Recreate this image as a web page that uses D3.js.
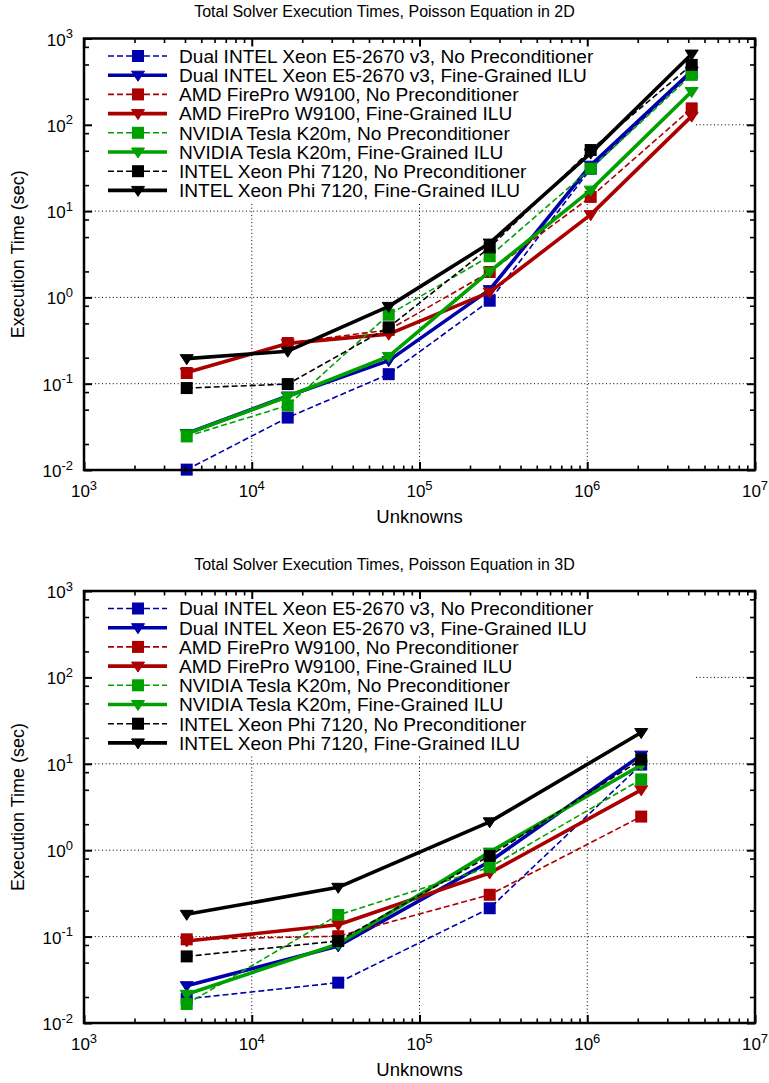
<!DOCTYPE html>
<html><head><meta charset="utf-8">
<script src="https://cdn.jsdelivr.net/npm/d3@7"></script>
<style>
body{margin:0;background:#fff}
svg{display:block}
text{font-family:"Liberation Sans",Arial,Helvetica,sans-serif;fill:#000}
</style>
</head><body>
<script>
// ---------------- data ----------------
const seriesLabels = [
  "Dual INTEL Xeon E5-2670 v3, No Preconditioner",
  "Dual INTEL Xeon E5-2670 v3, Fine-Grained ILU",
  "AMD FirePro W9100, No Preconditioner",
  "AMD FirePro W9100, Fine-Grained ILU",
  "NVIDIA Tesla K20m, No Preconditioner",
  "NVIDIA Tesla K20m, Fine-Grained ILU",
  "INTEL Xeon Phi 7120, No Preconditioner",
  "INTEL Xeon Phi 7120, Fine-Grained ILU"
];
const seriesColors = ["#0000aa","#0000aa","#aa0000","#aa0000","#00a000","#00a000","#000000","#000000"];
const seriesKinds  = ["none","ilu","none","ilu","none","ilu","none","ilu"];

// 2D Poisson
const unknowns2D = [4096, 16384, 65536, 262144, 1048576, 4194304];
const xeonNone2D = [0.0101, 0.0405, 0.129, 0.915, 31, 400];
const xeonILU2D  = [0.0265, 0.072, 0.185, 1.23, 34, 420];
const amdNone2D  = [0.133, 0.296, 0.42, 1.97, 14.6, 155];
const amdILU2D   = [0.135, 0.293, 0.375, 1.15, 9.1, 126];
const nvNone2D   = [0.0245, 0.056, 0.63, 3.0, 31, 379];
const nvILU2D    = [0.0262, 0.071, 0.207, 2.0, 17.5, 243];
const phiNone2D  = [0.089, 0.099, 0.45, 3.8, 51, 495];
const phiILU2D   = [0.195, 0.238, 0.787, 4.26, 47, 660];

// 3D Poisson
const unknowns3D = [4096, 32768, 262144, 2097152];
const xeonNone3D = [0.019, 0.0293, 0.213, 9.8];
const xeonILU3D  = [0.027, 0.078, 0.74, 12.6];
const amdNone3D  = [0.093, 0.101, 0.305, 2.45];
const amdILU3D   = [0.089, 0.137, 0.545, 5.0];
const nvNone3D   = [0.0166, 0.178, 0.635, 6.6];
const nvILU3D    = [0.0215, 0.082, 0.95, 9.7];
const phiNone3D  = [0.059, 0.089, 0.86, 11.2];
const phiILU3D   = [0.181, 0.372, 2.13, 23];

const xMajorTicks = [1e3, 1e4, 1e5, 1e6, 1e7];
const xTickExponents = ["3","4","5","6","7"];
const yMajorTicks = [1e-2, 1e-1, 1e0, 1e1, 1e2, 1e3];
const yTickExponents = ["-2","-1","0","1","2","3"];
const xMinorMultipliers = [2,3,4,5,6,7,8,9];
const yMinorMultipliers = [2,5,8];

const titles = ["Total Solver Execution Times, Poisson Equation in 2D",
                "Total Solver Execution Times, Poisson Equation in 3D"];
const xLabel = "Unknowns";
const yLabel = "Execution Time (sec)";

// ---------------- drawing ----------------
const W = 769, H = 1083;
const svg = d3.select("body").append("svg").attr("width", W).attr("height", H);

function minorTicks(majors, mults) {
  const out = [];
  for (let i = 0; i < majors.length - 1; i++) mults.forEach(m => out.push(majors[i] * m));
  return out;
}

function drawChart(cfg) {
  const {top, bottom, left, right, title, xs, series} = cfg;
  const x = d3.scaleLog().domain([1e3, 1e7]).range([left, right]);
  const y = d3.scaleLog().domain([1e-2, 1e3]).range([bottom, top]);
  const g = svg.append("g");

  // title
  g.append("text").attr("x", W / 2).attr("y", top - 21.5)
    .attr("text-anchor", "middle").style("font-size", "16px").text(title);

  // grid
  const gridStyle = s => s.attr("stroke", "#000").attr("stroke-width", 1).attr("stroke-dasharray", "1,2.6");
  g.append("g").selectAll("line").data(xMajorTicks.slice(1, -1)).join("line")
    .attr("x1", d => x(d)).attr("x2", d => x(d)).attr("y1", top).attr("y2", bottom).call(gridStyle);
  g.append("g").selectAll("line").data(yMajorTicks.slice(1, -1)).join("line")
    .attr("x1", left).attr("x2", right).attr("y1", d => y(d)).attr("y2", d => y(d)).call(gridStyle);

  // opaque key background
  const keyW = 610, keyH = 164.5;
  g.append("rect").attr("x", left).attr("y", top).attr("width", keyW).attr("height", keyH).attr("fill", "#fff");

  // series
  const line = d3.line().x(d => x(d[0])).y(d => y(d[1]));
  const tri = "M-6.5,-4L6.5,-4L0,6Z";
  series.forEach((vals, i) => {
    const col = seriesColors[i], kind = seriesKinds[i];
    const pts = xs.map((xv, j) => [xv, vals[j]]);
    const sg = g.append("g");
    sg.append("path").datum(pts).attr("d", line).attr("fill", "none")
      .attr("stroke", col).attr("stroke-width", kind === "none" ? 1.6 : 3.6)
      .attr("stroke-dasharray", kind === "none" ? "6,3" : null)
      .attr("stroke-linejoin", "round");
    if (kind === "none") {
      sg.selectAll("rect").data(pts).join("rect")
        .attr("x", d => x(d[0]) - 6).attr("y", d => y(d[1]) - 6)
        .attr("width", 12).attr("height", 12).attr("fill", col);
    } else {
      sg.selectAll("path.m").data(pts).join("path").attr("class", "m")
        .attr("d", tri).attr("transform", d => `translate(${x(d[0])},${y(d[1])})`)
        .attr("fill", col).attr("stroke", col).attr("stroke-width", 1);
    }
  });

  // legend
  const lg = g.append("g");
  seriesLabels.forEach((lab, i) => {
    const cy = top + 17.5 + i * 19.2;
    const col = seriesColors[i], kind = seriesKinds[i];
    lg.append("line").attr("x1", 108).attr("x2", 167).attr("y1", cy).attr("y2", cy)
      .attr("stroke", col).attr("stroke-width", kind === "none" ? 1.6 : 3.6)
      .attr("stroke-dasharray", kind === "none" ? "6,3" : null);
    if (kind === "none") {
      lg.append("rect").attr("x", 138 - 6).attr("y", cy - 6).attr("width", 12).attr("height", 12).attr("fill", col);
    } else {
      lg.append("path").attr("d", tri).attr("transform", `translate(138,${cy})`)
        .attr("fill", col).attr("stroke", col).attr("stroke-width", 1);
    }
    lg.append("text").attr("x", 179).attr("y", cy).attr("dy", "0.36em")
      .style("font-size", "19.1px").text(lab);
  });

  // axes (inward ticks on all four sides)
  const axG = g.append("g");
  const tickStyle = (sel, w) => {
    sel.selectAll(".domain").remove();
    sel.selectAll(".tick line").attr("stroke", "#000").attr("stroke-width", w);
    sel.selectAll(".tick text").remove();
  };
  const xMin = minorTicks(xMajorTicks, xMinorMultipliers);
  const yMin = minorTicks(yMajorTicks, yMinorMultipliers);
  axG.append("g").attr("transform", `translate(0,${bottom})`)
    .call(d3.axisBottom(x).tickValues(xMajorTicks).tickSize(-8)).call(s => tickStyle(s, 2));
  axG.append("g").attr("transform", `translate(0,${bottom})`)
    .call(d3.axisBottom(x).tickValues(xMin).tickSize(-4.5)).call(s => tickStyle(s, 1.6));
  axG.append("g").attr("transform", `translate(0,${top})`)
    .call(d3.axisTop(x).tickValues(xMajorTicks).tickSize(-8)).call(s => tickStyle(s, 2));
  axG.append("g").attr("transform", `translate(0,${top})`)
    .call(d3.axisTop(x).tickValues(xMin).tickSize(-4.5)).call(s => tickStyle(s, 1.6));
  axG.append("g").attr("transform", `translate(${left},0)`)
    .call(d3.axisLeft(y).tickValues(yMajorTicks).tickSize(-8)).call(s => tickStyle(s, 2));
  axG.append("g").attr("transform", `translate(${left},0)`)
    .call(d3.axisLeft(y).tickValues(yMin).tickSize(-5)).call(s => tickStyle(s, 1.6));
  axG.append("g").attr("transform", `translate(${right},0)`)
    .call(d3.axisRight(y).tickValues(yMajorTicks).tickSize(-8)).call(s => tickStyle(s, 2));
  axG.append("g").attr("transform", `translate(${right},0)`)
    .call(d3.axisRight(y).tickValues(yMin).tickSize(-5)).call(s => tickStyle(s, 1.6));

  // border
  g.append("rect").attr("x", left).attr("y", top).attr("width", right - left).attr("height", bottom - top)
    .attr("fill", "none").attr("stroke", "#000").attr("stroke-width", 2.5);

  // tick labels with superscripts
  xMajorTicks.forEach((t, i) => {
    const tx = g.append("text").attr("x", x(t)).attr("y", bottom + 27)
      .attr("text-anchor", "middle").style("font-size", "17px");
    tx.append("tspan").text("10");
    tx.append("tspan").attr("dy", -7.5).style("font-size", "13px").text(xTickExponents[i]);
  });
  yMajorTicks.forEach((t, i) => {
    const tx = g.append("text").attr("x", left - 11).attr("y", y(t) + 7)
      .attr("text-anchor", "end").style("font-size", "17px");
    tx.append("tspan").text("10");
    tx.append("tspan").attr("dy", -7.5).style("font-size", "13px").text(yTickExponents[i]);
  });

  // axis labels
  g.append("text").attr("x", (left + right) / 2).attr("y", bottom + 53)
    .attr("text-anchor", "middle").style("font-size", "18.5px").text(xLabel);
  g.append("text").attr("transform", `translate(24,${(top + bottom) / 2}) rotate(-90)`)
    .attr("text-anchor", "middle").style("font-size", "18px").text(yLabel);
}

drawChart({
  top: 38.5, bottom: 470, left: 84, right: 755,
  title: titles[0], xs: unknowns2D,
  series: [xeonNone2D, xeonILU2D, amdNone2D, amdILU2D, nvNone2D, nvILU2D, phiNone2D, phiILU2D]
});
drawChart({
  top: 591, bottom: 1023, left: 84, right: 755,
  title: titles[1], xs: unknowns3D,
  series: [xeonNone3D, xeonILU3D, amdNone3D, amdILU3D, nvNone3D, nvILU3D, phiNone3D, phiILU3D]
});
</script>
</body></html>
